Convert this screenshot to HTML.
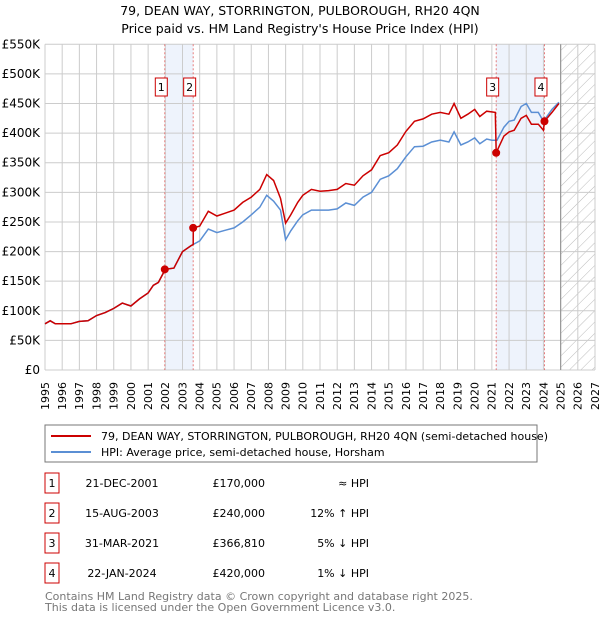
<!DOCTYPE html>
<html><head><meta charset="utf-8">
<style>
body{margin:0;background:#fff;font-family:"Liberation Sans","DejaVu Sans",sans-serif;}
svg text{font-family:"DejaVu Sans","Liberation Sans",sans-serif;}
</style></head>
<body>
<svg width="600" height="620" viewBox="0 0 600 620">
<defs>
<pattern id="hatch" width="8" height="8" patternUnits="userSpaceOnUse" patternTransform="rotate(45)">
<line x1="0" y1="0" x2="0" y2="8" stroke="#bbb" stroke-width="1"/>
</pattern>
</defs>
<text x="300" y="15" text-anchor="middle" font-size="12.5" fill="#000">79, DEAN WAY, STORRINGTON, PULBOROUGH, RH20 4QN</text>
<text x="300" y="33" text-anchor="middle" font-size="12.5" fill="#000">Price paid vs. HM Land Registry's House Price Index (HPI)</text>
<g id="plot"></g>
<rect x="45" y="425" width="492" height="37" fill="#fff" stroke="#777"/>
<line x1="51" y1="436" x2="91" y2="436" stroke="#cc0000" stroke-width="2"/>
<text x="101" y="440" font-size="11">79, DEAN WAY, STORRINGTON, PULBOROUGH, RH20 4QN (semi-detached house)</text>
<line x1="51" y1="452" x2="91" y2="452" stroke="#5b8fd4" stroke-width="2"/>
<text x="101" y="456" font-size="11">HPI: Average price, semi-detached house, Horsham</text>
<g id="table" font-size="11"></g>
<text x="45" y="600" font-size="11" fill="#777">Contains HM Land Registry data © Crown copyright and database right 2025.</text>
<text x="45" y="611" font-size="11" fill="#777">This data is licensed under the Open Government Licence v3.0.</text>
</svg>
<script>
const hpiYears=[1995,1995.3,1995.6,1996,1996.5,1997,1997.5,1998,1998.5,1999,1999.5,2000,2000.5,2001,2001.3,2001.6,2002,2002.5,2003,2003.5,2004,2004.5,2005,2005.5,2006,2006.5,2007,2007.5,2007.9,2008.3,2008.7,2009,2009.3,2009.7,2010,2010.5,2011,2011.5,2012,2012.5,2013,2013.5,2014,2014.5,2015,2015.5,2016,2016.5,2017,2017.5,2018,2018.5,2018.8,2019.2,2019.6,2020,2020.3,2020.7,2021,2021.3,2021.7,2022,2022.3,2022.7,2023,2023.3,2023.7,2024,2024.5,2024.9];
const hpiValues=[78,83,78,78,78,82,83,92,97,104,113,108,120,130,143,148,170,172,200,210,218,238,232,236,240,250,262,275,295,285,270,220,235,252,262,270,270,270,272,282,278,292,300,322,328,340,360,377,378,385,388,385,402,380,385,392,382,390,388,388,410,420,422,445,450,435,435,420,440,452];
const priceYears=[1995,1995.3,1995.6,1996,1996.5,1997,1997.5,1998,1998.5,1999,1999.5,2000,2000.5,2001,2001.3,2001.6,2002,2002.5,2003,2003.5,2003.62,2003.63,2004,2004.5,2005,2005.5,2006,2006.5,2007,2007.5,2007.9,2008.3,2008.7,2009,2009.3,2009.7,2010,2010.5,2011,2011.5,2012,2012.5,2013,2013.5,2014,2014.5,2015,2015.5,2016,2016.5,2017,2017.5,2018,2018.5,2018.8,2019.2,2019.6,2020,2020.3,2020.7,2021.2,2021.25,2021.7,2022,2022.3,2022.7,2023,2023.3,2023.7,2024,2024.06,2024.5,2024.9];
const priceValues=[78,83,78,78,78,82,83,92,97,104,113,108,120,130,143,148,170,172,200,210,212,240,243,268,260,265,270,283,292,305,330,320,290,248,262,283,295,305,302,303,305,315,312,328,338,362,367,380,403,420,424,432,435,432,450,425,432,440,428,437,435,367,395,402,405,425,430,415,415,405,420,435,450];
const saleYears=[2001.97,2003.62,2021.25,2024.06];
const saleValues=[170,240,366.81,420];
const saleLabels=["1","2","3","4"];
const saleDates=["21-DEC-2001","15-AUG-2003","31-MAR-2021","22-JAN-2024"];
const salePrices=["£170,000","£240,000","£366,810","£420,000"];
const saleHpi=["≈ HPI","12% ↑ HPI","5% ↓ HPI","1% ↓ HPI"];
const yTicks=[0,50,100,150,200,250,300,350,400,450,500,550];
const xTicks=[];for(let y=1995;y<=2027;y++)xTicks.push(y);

const NS="http://www.w3.org/2000/svg";
const X0=45,X1=595,Y0=370,Y1=44.3;
const xs=y=>X0+(y-1995)/(2027-1995)*(X1-X0);
const ys=v=>Y0-v/550*(Y0-Y1);
const plot=document.getElementById('plot');
function mk(tag,attrs,parent){const e=document.createElementNS(NS,tag);for(const k in attrs)e.setAttribute(k,attrs[k]);(parent||plot).appendChild(e);return e;}

let r=mk('rect',{x:xs(saleYears[0]),y:Y1,width:xs(saleYears[1])-xs(saleYears[0]),height:Y0-Y1,fill:'#eef3fc'});


r=mk('rect',{x:xs(saleYears[2]),y:Y1,width:xs(saleYears[3])-xs(saleYears[2]),height:Y0-Y1,fill:'#eef3fc'});


r=mk('rect',{x:xs(2025),y:Y1,width:X1-xs(2025),height:Y0-Y1,fill:'url(#hatch)'});



xTicks.forEach(y=>{
  const l=mk('line',{x1:xs(y),x2:xs(y),y1:Y1,y2:Y0,stroke:'#ccc','stroke-width':1});
  
  
  const t=mk('text',{x:xs(y),y:Y0+12,'font-size':11,'text-anchor':'end',transform:`rotate(-90 ${xs(y)} ${Y0+12})`,dy:'0.35em'});
  t.textContent=y;
  
  
});
yTicks.forEach(v=>{
  const l=mk('line',{x1:X0,x2:X1,y1:ys(v),y2:ys(v),stroke:'#ccc','stroke-width':1});
  
  
  const t=mk('text',{x:X0-5,y:ys(v)+4,'font-size':12,'text-anchor':'end'});
  t.textContent=v===0?'£0':'£'+v+'K';
  
  
});
let l=mk('line',{x1:xs(2025),x2:xs(2025),y1:Y1,y2:Y0,stroke:'#999','stroke-width':1.2});



saleYears.forEach((y,i)=>{
  const v=mk('line',{x1:xs(y),x2:xs(y),y1:Y1,y2:Y0,stroke:'#e06060','stroke-width':0.8,'stroke-dasharray':'2,2'});
  
  
});

function path(xa,va,color,name){
  const d=xa.map((y,i)=>(i?'L':'M')+xs(y).toFixed(1)+','+ys(va[i]).toFixed(1)).join('');
  const p=mk('path',{d:d,fill:'none',stroke:color,'stroke-width':1.5});
  
  
}
path(hpiYears,hpiValues,'#5b8fd4','hpi-line');
path(priceYears,priceValues,'#cc0000','price-paid-line');

saleYears.forEach((y,i)=>{
  const c=mk('circle',{cx:xs(y),cy:ys(saleValues[i]),r:4,fill:'#cc0000'});
  
  
  const g=mk('g',{});
  
  
  const cx=xs(y)-3.5;
  mk('rect',{x:cx-6,y:78,width:12,height:18,fill:'#fff',stroke:'#cc0000'},g);
  const t=mk('text',{x:cx,y:91,'font-size':11,'text-anchor':'middle'},g);
  t.textContent=saleLabels[i];
});

const tb=document.getElementById('table');
saleLabels.forEach((s,i)=>{
  const cy=483+i*30;
  const row=mk('g',{},tb);
  
  
  mk('rect',{x:45,y:cy-10,width:14,height:20,fill:'#fff',stroke:'#cc0000'},row);
  let t=mk('text',{x:52,y:cy+4,'text-anchor':'middle'},row);t.textContent=s;
  t=mk('text',{x:122,y:cy+4,'text-anchor':'middle'},row);t.textContent=saleDates[i];
  t=mk('text',{x:265,y:cy+4,'text-anchor':'end'},row);t.textContent=salePrices[i];
  t=mk('text',{x:369,y:cy+4,'text-anchor':'end'},row);t.textContent=saleHpi[i];
});
</script>
</body></html>
